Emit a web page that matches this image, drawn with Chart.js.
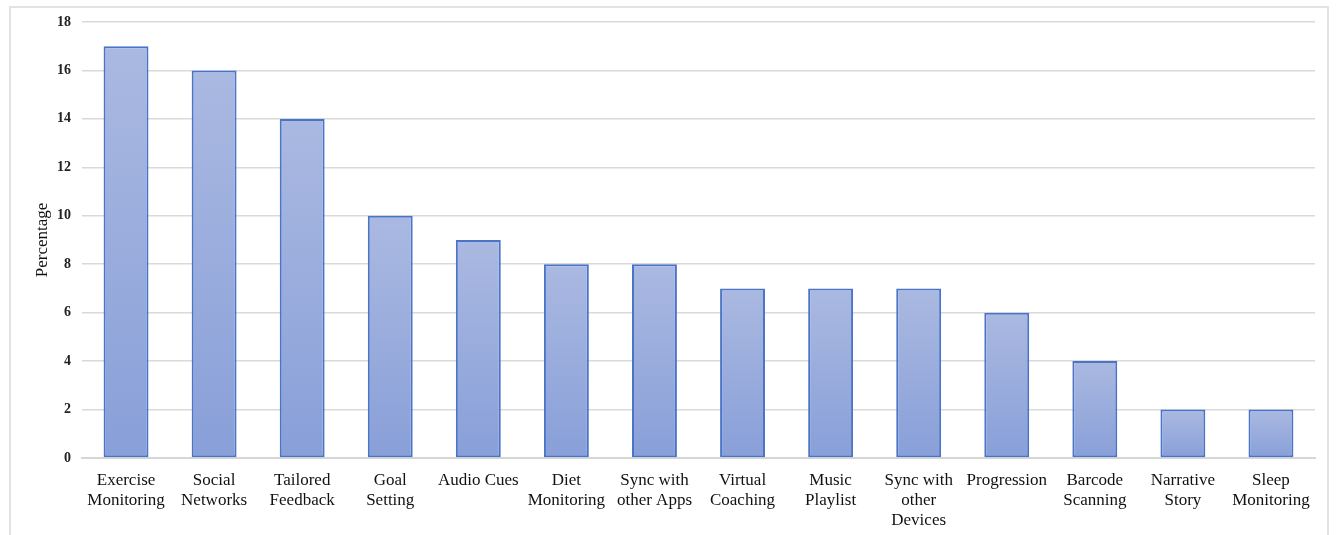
<!DOCTYPE html>
<html>
<head>
<meta charset="utf-8">
<script src="https://cdn.jsdelivr.net/npm/chart.js@4"></script>
<style>
  html, body { margin: 0; padding: 0; background: #fff; overflow: hidden; }
  #wrap { position: relative; width: 1336px; height: 535px; }
  #frame { position: absolute; left: 9px; top: 6px; width: 1320px; height: 560px; border: 2px solid #e3e3e3; box-sizing: border-box; }
  #chart { position: absolute; left: 0; top: 0; }
</style>
</head>
<body>
<div id="wrap">
  <div id="frame"></div>
  <canvas id="chart" width="1336" height="535"></canvas>
</div>
<script>
// features and share of apps using them (%)
const categories = [
    ['Exercise', 'Monitoring'], ['Social', 'Networks'], ['Tailored', 'Feedback'],
    ['Goal', 'Setting'], 'Audio Cues', ['Diet', 'Monitoring'], ['Sync with', 'other Apps'],
    ['Virtual', 'Coaching'], ['Music', 'Playlist'], ['Sync with', 'other', 'Devices'],
    'Progression', ['Barcode', 'Scanning'], ['Narrative', 'Story'], ['Sleep', 'Monitoring']
];
const percentages = [17, 16, 14, 10, 9, 8, 8, 7, 7, 7, 6, 4, 2, 2];
const yTicks = [0, 2, 4, 6, 8, 10, 12, 14, 16, 18];

const serif = '"Liberation Serif", "DejaVu Serif", serif';

// lighter at the top of each bar, darker at its base
function barFill(context) {
    const chart = context.chart;
    if (!chart.chartArea || !chart.scales.y) return '#9aaedd';
    const y = chart.scales.y;
    const top = y.getPixelForValue(context.raw);
    const base = y.getPixelForValue(0);
    if (!isFinite(top) || top === base) return '#9aaedd';
    const g = chart.ctx.createLinearGradient(0, top, 0, base);
    g.addColorStop(0, '#aab9e1');
    g.addColorStop(1, '#889fd8');
    return g;
}

new Chart(document.getElementById('chart'), {
    type: 'bar',
    data: {
        labels: categories,
        datasets: [{
            data: percentages,
            backgroundColor: barFill,
            borderColor: '#4a74c8',
            borderWidth: 2,
            borderSkipped: false,
            categoryPercentage: 1,
            barPercentage: 0.51
        }]
    },
    options: {
        responsive: false,
        animation: false,
        layout: { padding: { top: 22, right: 21, left: 32, bottom: 0 } },
        plugins: { legend: { display: false }, tooltip: { enabled: false } },
        scales: {
            x: {
                grid: { display: false, drawTicks: false },
                border: { color: '#d6d6d6', width: 2 },
                ticks: {
                    color: '#111',
                    font: { family: serif, size: 17, lineHeight: 1.2 },
                    padding: 12,
                    maxRotation: 0,
                    autoSkip: false
                },
                afterFit: s => { s.height = 535 - 458; }
            },
            y: {
                min: 0,
                max: 18,
                afterBuildTicks: s => { s.ticks = yTicks.map(v => ({ value: v })); },
                grid: { color: '#d9d9d9', lineWidth: 1.5, drawTicks: false },
                border: { display: false },
                ticks: {
                    color: '#222',
                    font: { family: serif, size: 14, weight: 'bold' },
                    padding: 11
                },
                title: {
                    display: true,
                    text: 'Percentage',
                    color: '#111',
                    font: { family: serif, size: 17 },
                    padding: { top: 0, bottom: 0 }
                },
                afterFit: s => { s.width = 50; }
            }
        }
    }
});
</script>
</body>
</html>
